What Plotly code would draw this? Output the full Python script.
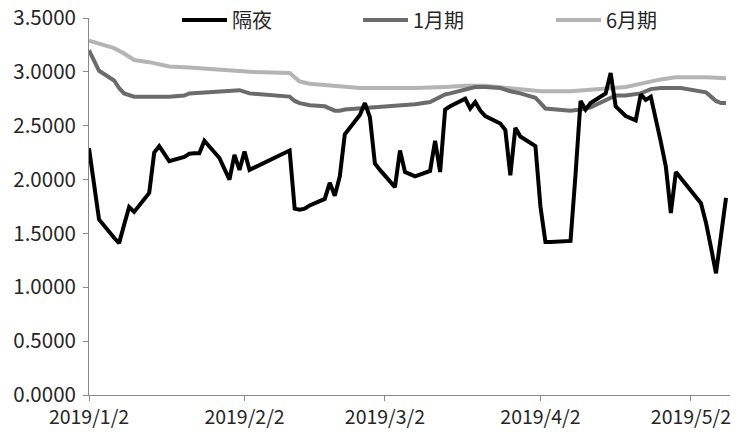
import plotly.graph_objects as go

# ---- data ----
on_dates = [
    "2019-01-02", "2019-01-03", "2019-01-04", "2019-01-07", "2019-01-08", "2019-01-09",
    "2019-01-10", "2019-01-11", "2019-01-14", "2019-01-15", "2019-01-16", "2019-01-17",
    "2019-01-18", "2019-01-21", "2019-01-22", "2019-01-23", "2019-01-24", "2019-01-25",
    "2019-01-28", "2019-01-29", "2019-01-30", "2019-01-31", "2019-02-01", "2019-02-02",
    "2019-02-03", "2019-02-11", "2019-02-12", "2019-02-13", "2019-02-14", "2019-02-15",
    "2019-02-18", "2019-02-19", "2019-02-20", "2019-02-21", "2019-02-22", "2019-02-25",
    "2019-02-26", "2019-02-27", "2019-02-28", "2019-03-01", "2019-03-04", "2019-03-05",
    "2019-03-06", "2019-03-07", "2019-03-08", "2019-03-11", "2019-03-12", "2019-03-13",
    "2019-03-14", "2019-03-15", "2019-03-18", "2019-03-19", "2019-03-20", "2019-03-21",
    "2019-03-22", "2019-03-25", "2019-03-26", "2019-03-27", "2019-03-28", "2019-03-29",
    "2019-04-01", "2019-04-02", "2019-04-03", "2019-04-04", "2019-04-08", "2019-04-09",
    "2019-04-10", "2019-04-11", "2019-04-12", "2019-04-15", "2019-04-16", "2019-04-17",
    "2019-04-18", "2019-04-19", "2019-04-21", "2019-04-22", "2019-04-23", "2019-04-24",
    "2019-04-26", "2019-04-27", "2019-04-28", "2019-04-29", "2019-05-04", "2019-05-05",
    "2019-05-06", "2019-05-07", "2019-05-08", "2019-05-09",
]
on_values = [
    2.29, 1.95, 1.63, 1.46, 1.41, 1.58,
    1.745, 1.70, 1.875, 2.25, 2.31, 2.24,
    2.17, 2.21, 2.24, 2.245, 2.245, 2.36,
    2.20, 2.10, 2.00, 2.23, 2.09, 2.26,
    2.09, 2.27, 1.73, 1.72, 1.73, 1.76,
    1.82, 1.97, 1.85, 2.03, 2.42, 2.60,
    2.71, 2.58, 2.15, 2.09, 1.93, 2.27,
    2.07, 2.05, 2.03, 2.08, 2.36, 2.07,
    2.65, 2.68, 2.75, 2.66, 2.72, 2.64,
    2.59, 2.52, 2.46, 2.04, 2.48, 2.40,
    2.31, 1.75, 1.42, 1.42, 1.43, 2.05,
    2.73, 2.65, 2.71, 2.80, 2.99, 2.68,
    2.63, 2.59, 2.55, 2.79, 2.74, 2.77,
    2.35, 2.12, 1.69, 2.07, 1.78, 1.60,
    1.37, 1.13, 1.48, 1.83,
]

m1_dates = [
    "2019-01-02", "2019-01-03", "2019-01-04", "2019-01-07", "2019-01-08", "2019-01-09",
    "2019-01-10", "2019-01-11", "2019-01-18", "2019-01-21", "2019-01-22", "2019-01-25",
    "2019-01-28", "2019-01-30", "2019-02-01", "2019-02-03", "2019-02-11", "2019-02-12",
    "2019-02-13", "2019-02-15", "2019-02-18", "2019-02-20", "2019-02-21", "2019-02-22",
    "2019-02-25", "2019-02-27", "2019-03-01", "2019-03-04", "2019-03-08", "2019-03-11",
    "2019-03-12", "2019-03-13", "2019-03-14", "2019-03-15", "2019-03-18", "2019-03-20",
    "2019-03-22", "2019-03-25", "2019-03-27", "2019-03-29", "2019-04-01", "2019-04-02",
    "2019-04-03", "2019-04-08", "2019-04-10", "2019-04-12", "2019-04-15", "2019-04-16",
    "2019-04-17", "2019-04-19", "2019-04-22", "2019-04-24", "2019-04-26", "2019-04-30",
    "2019-05-05", "2019-05-06", "2019-05-07", "2019-05-08", "2019-05-09",
]
m1_values = [
    3.20, 3.10, 3.01, 2.92, 2.85, 2.80,
    2.78, 2.77, 2.77, 2.78, 2.80, 2.81,
    2.82, 2.83, 2.83, 2.80, 2.77, 2.73,
    2.71, 2.69, 2.68, 2.64, 2.64, 2.65,
    2.66, 2.67, 2.68, 2.69, 2.70, 2.72,
    2.74, 2.77, 2.79, 2.80, 2.84, 2.86,
    2.86, 2.85, 2.82, 2.80, 2.76, 2.71,
    2.66, 2.64, 2.65, 2.67, 2.73, 2.76,
    2.78, 2.78, 2.80, 2.84, 2.85, 2.85,
    2.81, 2.77, 2.73, 2.71, 2.71,
]

m6_dates = [
    "2019-01-02", "2019-01-04", "2019-01-07", "2019-01-09", "2019-01-10", "2019-01-11",
    "2019-01-14", "2019-01-18", "2019-01-22", "2019-01-25", "2019-01-31", "2019-02-03",
    "2019-02-11", "2019-02-12", "2019-02-13", "2019-02-15", "2019-02-20", "2019-02-25",
    "2019-03-01", "2019-03-08", "2019-03-14", "2019-03-18", "2019-03-22", "2019-03-26",
    "2019-03-29", "2019-04-02", "2019-04-08", "2019-04-15", "2019-04-19", "2019-04-23",
    "2019-04-26", "2019-04-29", "2019-05-05", "2019-05-09",
]
m6_values = [
    3.29, 3.26, 3.22, 3.17, 3.14, 3.11,
    3.09, 3.05, 3.04, 3.03, 3.01, 3.00,
    2.99, 2.95, 2.91, 2.89, 2.87, 2.85,
    2.85, 2.85, 2.86, 2.87, 2.87, 2.85,
    2.84, 2.82, 2.82, 2.84, 2.86, 2.90,
    2.93, 2.95, 2.95, 2.94,
]

series_names = ["隔夜", "1月期", "6月期"]
tick_dates = ["2019-01-02", "2019-02-02", "2019-03-02", "2019-04-02", "2019-05-02"]
tick_labels = ["2019/1/2", "2019/2/2", "2019/3/2", "2019/4/2", "2019/5/2"]

# ---- figure ----
FONT = "Noto Sans CJK SC, sans-serif"
PLOT_W = 641  # plot-area width in px (used for legend placement fractions)
PLOT_H = 377

fig = go.Figure()
fig.add_trace(go.Scatter(x=m6_dates, y=m6_values, name=series_names[2], mode="lines",
                         line=dict(color="#b4b4b4", width=4), legend="legend3"))
fig.add_trace(go.Scatter(x=m1_dates, y=m1_values, name=series_names[1], mode="lines",
                         line=dict(color="#6b6b6b", width=4), legend="legend2"))
fig.add_trace(go.Scatter(x=on_dates, y=on_values, name=series_names[0], mode="lines",
                         line=dict(color="#000000", width=4), legend="legend"))

leg_common = dict(orientation="h", yanchor="middle", y=1.0 - 2 / PLOT_H, xanchor="left",
                  bgcolor="rgba(0,0,0,0)", font=dict(family=FONT, size=20, color="#262626"),
                  itemwidth=45, tracegroupgap=0)

fig.update_layout(
    width=743, height=438,
    margin=dict(l=89, r=13, t=18, b=43, autoexpand=False),
    paper_bgcolor="white", plot_bgcolor="white",
    showlegend=True,
    legend=dict(x=88 / PLOT_W, **leg_common),
    legend2=dict(x=269 / PLOT_W, **leg_common),
    legend3=dict(x=462 / PLOT_W, **leg_common),
    xaxis=dict(
        type="date",
        range=["2019-01-02", "2019-05-09 19:00"],
        tickvals=tick_dates, ticktext=tick_labels,
        showgrid=False, zeroline=False,
        showline=True, linecolor="#888", linewidth=1,
        ticks="outside", ticklen=5, tickcolor="#888",
        tickfont=dict(family=FONT, size=19.5, color="#262626"),
        automargin=False, ticklabeloverflow="allow",
    ),
    yaxis=dict(
        range=[0, 3.5], dtick=0.5, tick0=0, tickformat=".4f",
        showgrid=False, zeroline=False,
        showline=True, linecolor="#888", linewidth=1,
        ticks="outside", ticklen=5, tickcolor="#888",
        tickfont=dict(family=FONT, size=20.5, color="#262626"),
        automargin=False, ticklabeloverflow="allow", ticklabelstandoff=3,
    ),
)

# remove the browser's default 8px body margin so the figure fills the window exactly
fig.write_html(
    "out.html",
    config={"displayModeBar": False},
    post_script="document.body.style.margin='0';document.body.style.overflow='hidden';",
)
